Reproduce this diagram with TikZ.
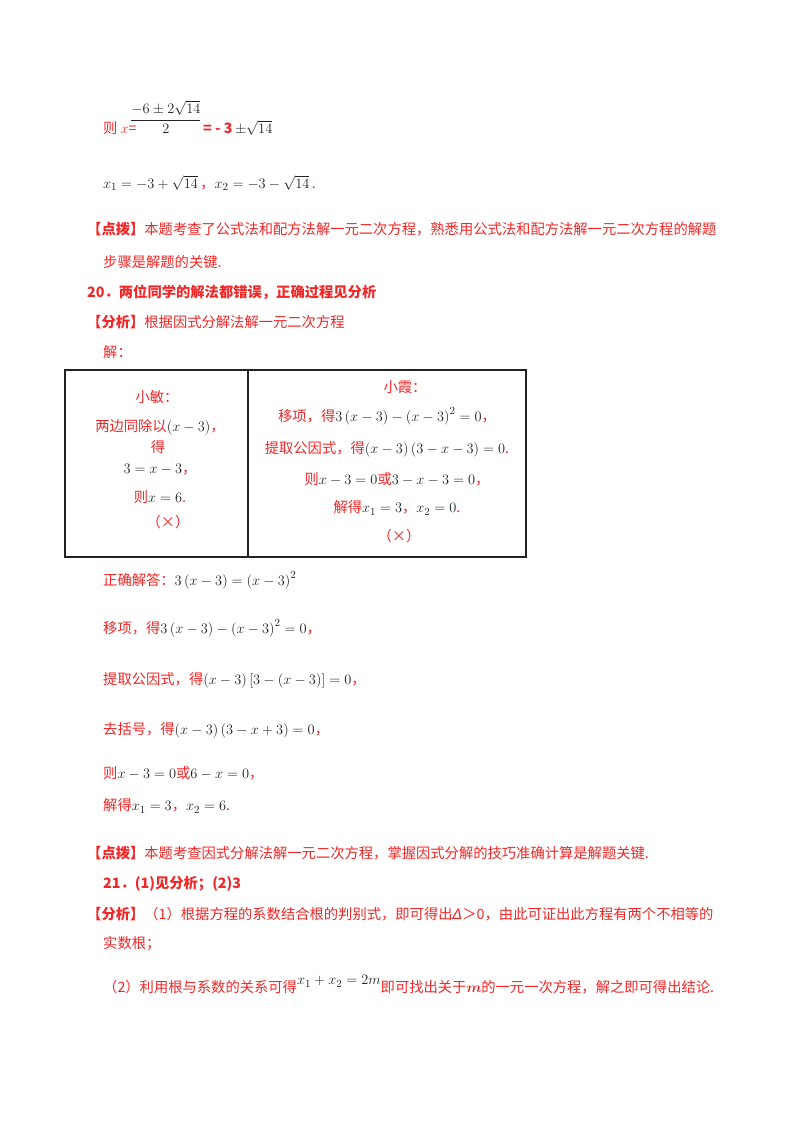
\documentclass[tikz,border=0pt]{standalone}
\usepackage{amsmath}
\usepackage{fontspec}
\newfontfamily\cjk{Noto Sans CJK SC}
\newfontfamily\dvs{DejaVu Sans}
\definecolor{rd}{HTML}{F02828}
\definecolor{mk}{HTML}{222222}
\newcommand{\M}[1]{\textcolor{mk}{\fontsize{15.5}{17}\selectfont$#1$}}
\begin{document}
\begin{tikzpicture}[x=1pt,y=-1pt,
  t/.style={anchor=west,inner sep=0pt,text=rd,font=\cjk\fontsize{14.3}{16}\selectfont},
  c/.style={anchor=center,inner sep=0pt,text=rd,font=\cjk\fontsize{14.3}{16}\selectfont},
  b/.style={t,font=\cjk\bfseries\fontsize{14.3}{16}\selectfont}]
\useasboundingbox[fill=white] (0,0) rectangle (800,1132);
\node[t] (a1) at (103,128) {则 $x$=};
\node[t] (a2) at (130,117) {\M{\dfrac{-6\pm2\sqrt{14}}{2}}};
\node[t] (a3) at (203,128) {\textbf{= - 3}\,\M{\pm\sqrt{14}}};
\node[t] (a4) at (103,183) {\M{x_1=-3+\sqrt{14}}\,，\M{x_2=-3-\sqrt{14}}\,.};
\node[b] (p1) at (87,229) {【点拨】\textmd{本题考查了公式法和配方法解一元二次方程，熟悉用公式法和配方法解一元二次方程的解题}};
\node[t] (p2) at (103,262) {步骤是解题的关键.};
\node[b] (q20) at (87,292) {20．两位同学的解法都错误，正确过程见分析};
\node[b] (f1) at (87,322) {【分析】\textmd{根据因式分解法解一元二次方程}};
\node[t] (j) at (103,352) {解：};
\draw[line width=1.2pt,mk] (65,370) rectangle (526,557);
\draw[line width=1.2pt,mk] (248,370) -- (248,557);
\node[c] (l1) at (157,397) {小敏：};
\node[c] (l2) at (160,427) {两边同除以\M{\left(x-3\right)}，};
\node[c] (l3) at (158,447) {得};
\node[c] (l4) at (160,470) {\M{3=x-3}，};
\node[c] (l5) at (160,497) {则\M{x=6}.};
\node[c] (l6) at (168,522) {（×）};
\node[c] (r1) at (405,387) {小霞：};
\node[c] (r2) at (387,416) {移项，得\M{3\left(x-3\right)-\left(x-3\right)^2=0}，};
\node[c] (r3) at (387,449) {提取公因式，得\M{\left(x-3\right)\left(3-x-3\right)=0}.};
\node[c] (r4) at (397,479) {则\M{x-3=0}或\M{3-x-3=0}，};
\node[c] (r5) at (397,508) {解得\M{x_1=3}，\M{x_2=0}.};
\node[c] (r6) at (399,536) {（×）};
\node[t] (s0) at (103,580) {正确解答：\M{3\left(x-3\right)=\left(x-3\right)^2}};
\node[t] (s1) at (103,628) {移项，得\M{3\left(x-3\right)-\left(x-3\right)^2=0}，};
\node[t] (s2) at (103,680) {提取公因式，得\M{\left(x-3\right)\left[3-\left(x-3\right)\right]=0}，};
\node[t] (s3) at (103,730) {去括号，得\M{\left(x-3\right)\left(3-x+3\right)=0}，};
\node[t] (s4) at (103,773) {则\M{x-3=0}或\M{6-x=0}，};
\node[t] (s5) at (103,806) {解得\M{x_1=3}，\M{x_2=6}.};
\node[b] (p3) at (87,853) {【点拨】\textmd{本题考查因式分解法解一元二次方程，掌握因式分解的技巧准确计算是解题关键.}};
\node[b] (q21) at (103,884) {21．(1)见分析；(2)3};
\node[b] (f2) at (87,914) {【分析】\textmd{（1）根据方程的系数结合根的判别式，即可得出{\dvs\itshape Δ}＞0，由此可证出此方程有两个不相等的}};
\node[t] (f3) at (103,944) {实数根；};
\node[t] (f4) at (103,985) {（2）利用根与系数的关系可得\raisebox{8pt}{\M{x_1+x_2=2m}}即可找出关于$\boldsymbol{m}$的一元一次方程，解之即可得出结论.};
\end{tikzpicture}
\end{document}
